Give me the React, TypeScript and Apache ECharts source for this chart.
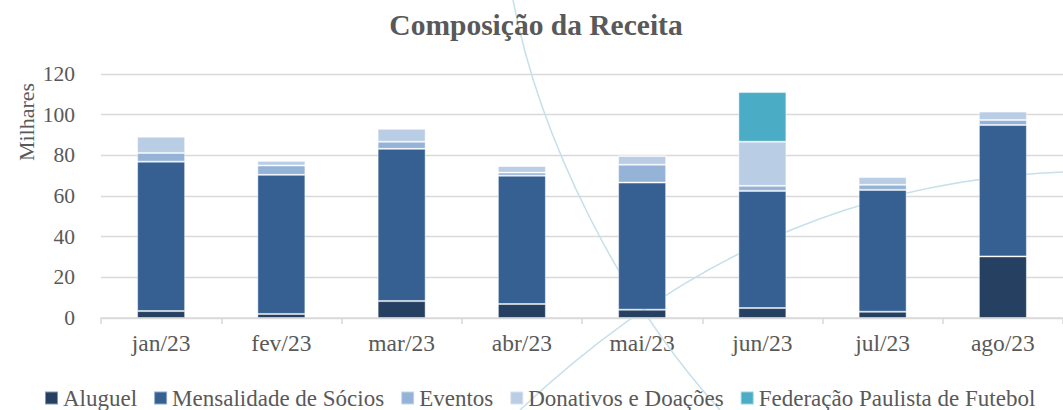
import React, { useEffect, useRef } from "react";
import * as echarts from "echarts";

const categories = ["jan/23", "fev/23", "mar/23", "abr/23", "mai/23", "jun/23", "jul/23", "ago/23"];
const aluguel = [3.4, 2.0, 8.3, 6.9, 4.1, 4.9, 3.1, 30.3];
const mensalidade = [73.5, 68.4, 74.9, 63.1, 62.5, 57.6, 59.9, 64.6];
const eventos = [4.3, 4.6, 3.5, 1.5, 8.8, 2.5, 2.5, 2.5];
const donativos = [8.0, 2.3, 6.4, 3.3, 4.3, 21.7, 3.9, 4.1];
const federacao = [0, 0, 0, 0, 0, 24.4, 0, 0];

const seriesNames = [
  "Aluguel",
  "Mensalidade de Sócios",
  "Eventos",
  "Donativos e Doações",
  "Federação Paulista de Futebol",
];
const seriesColors = ["#264061", "#366092", "#95B3D7", "#B9CDE5", "#4BACC6"];
const seriesData = [aluguel, mensalidade, eventos, donativos, federacao];

const yTicks = { min: 0, max: 120, interval: 20 };

const FONT = "'Liberation Serif', 'Times New Roman', serif";
const TEXT = "#595959";

export default function App() {
  const ref = useRef<HTMLDivElement>(null);
  useEffect(() => {
    if (!ref.current) return;
    const chart = echarts.init(ref.current, undefined, { renderer: "svg" });
    chart.setOption({
      animation: false,
      backgroundColor: "#ffffff",
      textStyle: { fontFamily: FONT, color: TEXT },
      title: {
        text: "Composição da Receita",
        left: 531,
        textAlign: "center",
        top: 5,
        textStyle: { fontFamily: FONT, fontSize: 29.5, fontWeight: "bold", color: TEXT },
      },
      legend: {
        left: 44,
        top: 386,
        padding: 0,
        itemWidth: 13,
        itemHeight: 13,
        itemGap: 16,
        icon: "rect",
        data: seriesNames,
        textStyle: { fontFamily: FONT, fontSize: 23, color: TEXT, lineHeight: 24 },
      },
      grid: { left: 101, right: -9, top: 74, bottom: 92, containLabel: false },
      xAxis: {
        type: "category",
        data: categories,
        axisLine: { lineStyle: { color: "#d9d9d9", width: 1.5 } },
        axisTick: { show: true, length: 6, lineStyle: { color: "#d9d9d9", width: 1.5 } },
        axisLabel: { fontFamily: FONT, fontSize: 23.5, color: TEXT, margin: 13 },
      },
      yAxis: {
        type: "value",
        min: yTicks.min,
        max: yTicks.max,
        interval: yTicks.interval,
        axisLine: { show: false },
        axisTick: { show: false },
        axisLabel: { fontFamily: FONT, fontSize: 21.5, color: TEXT, margin: 26 },
        splitLine: { lineStyle: { color: "#d9d9d9", width: 1.3 } },
      },
      graphic: [
        {
          type: "bezierCurve",
          z: 1,
          silent: true,
          shape: { x1: 513, y1: 0, cpx1: 540, cpy1: 140, cpx2: 620, cpy2: 300, x2: 720, y2: 410 },
          style: { stroke: "#c6e0ea", lineWidth: 1.5, fill: "none" },
        },
        {
          type: "bezierCurve",
          z: 1,
          silent: true,
          shape: { x1: 520, y1: 410, cpx1: 700, cpy1: 240, cpx2: 880, cpy2: 180, x2: 1063, y2: 172 },
          style: { stroke: "#c6e0ea", lineWidth: 1.5, fill: "none" },
        },
        {
          type: "text",
          x: 26,
          y: 122,
          rotation: Math.PI / 2,
          style: {
            text: "Milhares",
            fontFamily: FONT,
            fontSize: 22,
            fill: TEXT,
            align: "center",
            verticalAlign: "middle",
          },
        },
      ],
      series: seriesNames.map((name, i) => ({
        name,
        type: "bar",
        stack: "total",
        barWidth: 48,
        data: seriesData[i],
        itemStyle: {
          color: seriesColors[i],
          borderColor: "rgba(255,255,255,0.45)",
          borderWidth: 1,
        },
      })),
    });
    return () => chart.dispose();
  }, []);
  return (
    <div
      ref={ref}
      style={{ position: "absolute", left: 0, top: 0, width: 1063, height: 410 }}
    />
  );
}
